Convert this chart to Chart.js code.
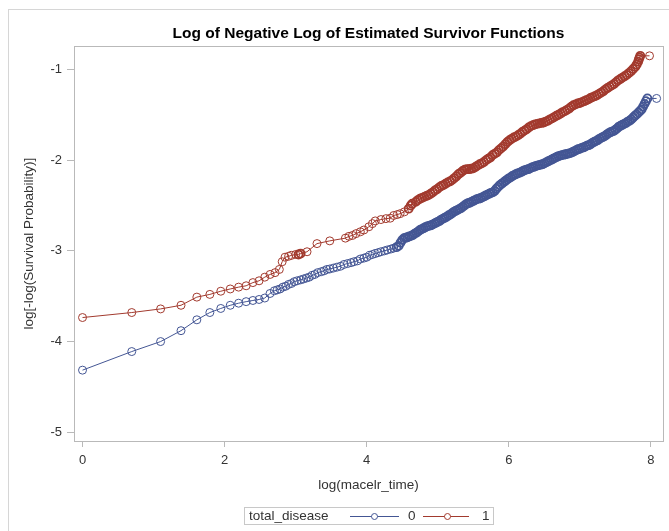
<!DOCTYPE html>
<html>
<head>
<meta charset="utf-8">
<title>Log of Negative Log of Estimated Survivor Functions</title>
<script src="https://cdn.jsdelivr.net/npm/chart.js@4.4.0/dist/chart.umd.min.js"></script>
<style>
  body { margin: 0; background: #fff; }
  #wrap { position: relative; width: 669px; height: 531px; overflow: hidden; font-family: "Liberation Sans", Arial, sans-serif; }
  #frame { position: absolute; left: 8px; top: 9px; width: 700px; height: 600px; border-left: 1px solid #d6d6d6; border-top: 1px solid #d6d6d6; }
  #chart { position: absolute; left: 0; top: 0; }
  #legend { position: absolute; left: 244px; top: 507px; width: 248px; height: 16px; border: 1px solid #c8c8c8; font-size: 13.5px; color: #333; }
  #legend span { position: absolute; top: 0; line-height: 16px; }
  #legend .key { top: 8px; width: 49px; height: 1px; }
  #legend .key::after { content: ""; position: absolute; left: 21px; top: -3px; width: 5px; height: 5px; border-radius: 50%; border: 1px solid currentColor; background: #fff; }
</style>
</head>
<body>
<div id="wrap">
  <div id="frame"></div>
  <canvas id="chart" width="669" height="531"></canvas>
  <div id="legend">
    <span style="left:4px">total_disease</span>
    <span class="key" style="left:105px;background:#445694;color:#445694"></span>
    <span style="left:163px">0</span>
    <span class="key" style="left:178px;background:#A23A2E;color:#A23A2E;width:46px"></span>
    <span style="left:237px">1</span>
  </div>
</div>
<script>
// === Data ===

// total_disease = 0
const timeLog0 = [
  0, 0.693, 1.099, 1.386, 1.609, 1.792, 1.946, 2.079, 2.197, 2.303, 2.398, 2.485, 2.565, 2.639,
  2.70, 2.74, 2.78, 2.82, 2.86, 2.90, 2.94, 2.98, 3.02, 3.07, 3.11, 3.15, 3.19, 3.23, 3.27, 3.31,
  3.36, 3.40, 3.44, 3.48, 3.53, 3.58, 3.63, 3.68, 3.73, 3.78, 3.82, 3.87, 3.91, 3.96, 4.00, 4.04,
  4.08, 4.12, 4.16, 4.20, 4.25, 4.29, 4.34, 4.38, 4.42,
  4.450, 4.475, 4.500, 4.525, 4.550, 4.575, 4.600, 4.625, 4.650, 4.675, 4.700, 4.725, 4.750, 4.775,
  4.800, 4.825, 4.850, 4.875, 4.900, 4.925, 4.950, 4.975, 5.000, 5.025, 5.050, 5.075, 5.100, 5.125,
  5.150, 5.175, 5.200, 5.225, 5.250, 5.275, 5.300, 5.325, 5.350, 5.375, 5.400, 5.425, 5.450, 5.475,
  5.500, 5.525, 5.550, 5.575, 5.600, 5.625, 5.650, 5.675, 5.700, 5.725, 5.750, 5.775, 5.800, 5.825,
  5.850, 5.875, 5.900, 5.925, 5.950, 5.975, 6.000, 6.025, 6.050, 6.075, 6.100, 6.125, 6.150, 6.175,
  6.200, 6.225, 6.250, 6.275, 6.300, 6.325, 6.350, 6.375, 6.400, 6.425, 6.450, 6.475, 6.500, 6.525,
  6.550, 6.575, 6.600, 6.625, 6.650, 6.675, 6.700, 6.725, 6.750, 6.775, 6.800, 6.825, 6.850, 6.875,
  6.900, 6.925, 6.950, 6.975, 7.000, 7.025, 7.050, 7.075, 7.100, 7.125, 7.150, 7.175, 7.200, 7.225,
  7.250, 7.275, 7.300, 7.325, 7.350, 7.375, 7.400, 7.425, 7.450, 7.475, 7.500, 7.525, 7.550, 7.575,
  7.600, 7.625, 7.650, 7.675, 7.700, 7.725, 7.750, 7.775, 7.800, 7.825, 7.850, 7.870, 7.890, 7.910,
  7.930, 7.950, 8.080
];
const survLogLog0 = [
  -4.315, -4.11, -4.00, -3.88, -3.76, -3.68, -3.635, -3.60, -3.577, -3.56, -3.547, -3.536, -3.52, -3.47,
  -3.44, -3.43, -3.42, -3.40, -3.39, -3.37, -3.36, -3.34, -3.33, -3.32, -3.31, -3.30, -3.29, -3.27, -3.26, -3.24,
  -3.23, -3.22, -3.205, -3.20, -3.19, -3.18, -3.17, -3.15, -3.14, -3.13, -3.12, -3.11, -3.09, -3.08, -3.07, -3.05,
  -3.04, -3.03, -3.02, -3.01, -3.00, -2.99, -2.98, -2.97, -2.96,
  -2.945, -2.91, -2.88, -2.86, -2.855, -2.85, -2.84, -2.835, -2.825, -2.81, -2.80, -2.785, -2.77, -2.76,
  -2.75, -2.74, -2.73, -2.725, -2.72, -2.71, -2.70, -2.69, -2.68, -2.67, -2.655, -2.645, -2.635, -2.625,
  -2.61, -2.60, -2.585, -2.57, -2.56, -2.55, -2.54, -2.53, -2.515, -2.50, -2.485, -2.475, -2.47, -2.46,
  -2.45, -2.44, -2.43, -2.425, -2.42, -2.41, -2.40, -2.39, -2.38, -2.37, -2.36, -2.355, -2.34, -2.315,
  -2.295, -2.275, -2.26, -2.245, -2.23, -2.215, -2.20, -2.19, -2.175, -2.165, -2.155, -2.145, -2.14, -2.13,
  -2.12, -2.11, -2.105, -2.10, -2.09, -2.08, -2.075, -2.065, -2.06, -2.055, -2.05, -2.045, -2.035, -2.025,
  -2.015, -2.005, -1.995, -1.985, -1.975, -1.965, -1.955, -1.95, -1.945, -1.94, -1.935, -1.93, -1.925, -1.92,
  -1.91, -1.90, -1.89, -1.88, -1.875, -1.865, -1.86, -1.85, -1.84, -1.835, -1.825, -1.81, -1.80, -1.79,
  -1.78, -1.765, -1.755, -1.745, -1.735, -1.72, -1.705, -1.695, -1.685, -1.68, -1.665, -1.65, -1.63, -1.62,
  -1.61, -1.60, -1.59, -1.575, -1.565, -1.55, -1.53, -1.51, -1.495, -1.475, -1.455, -1.44, -1.41, -1.38,
  -1.35, -1.32, -1.32
];

// total_disease = 1
const timeLog1 = [
  0, 0.693, 1.099, 1.386, 1.609, 1.792, 1.946, 2.079, 2.197, 2.303, 2.398, 2.485, 2.565, 2.64,
  2.71, 2.77, 2.81, 2.85, 2.90, 2.94, 3.00, 3.04, 3.07, 3.16, 3.30, 3.48, 3.70, 3.75, 3.80, 3.85,
  3.91, 3.96, 4.03, 4.08, 4.12, 4.20, 4.27, 4.33, 4.38, 4.43, 4.47, 4.53, 4.59, 4.62, 4.64, 4.69,
  4.72, 4.75, 4.78, 4.81, 4.84, 4.87, 4.90, 4.93, 4.96, 4.99, 5.02, 5.05, 5.08, 5.11, 5.14, 5.17,
  5.20, 5.23, 5.26, 5.29, 5.32, 5.35, 5.38, 5.41, 5.44, 5.47, 5.50, 5.53, 5.56, 5.59, 5.62, 5.65,
  5.68, 5.71, 5.74, 5.77, 5.80, 5.83, 5.86, 5.89, 5.92, 5.95, 5.98, 6.01, 6.04, 6.07, 6.10, 6.13,
  6.16, 6.19, 6.22, 6.25, 6.28, 6.31, 6.34, 6.37, 6.40, 6.43, 6.46, 6.49, 6.52, 6.55, 6.58, 6.61,
  6.64, 6.67, 6.70, 6.73, 6.76, 6.79, 6.82, 6.85, 6.88, 6.91, 6.94, 6.97, 7.00, 7.03, 7.06, 7.09,
  7.12, 7.15, 7.18, 7.21, 7.24, 7.27, 7.30, 7.33, 7.36, 7.39, 7.42, 7.45, 7.48, 7.51, 7.54, 7.57,
  7.60, 7.63, 7.66, 7.69, 7.72, 7.75, 7.78, 7.80, 7.82, 7.83, 7.84, 7.85, 7.98
];
const survLogLog1 = [
  -3.735, -3.68, -3.64, -3.60, -3.51, -3.48, -3.445, -3.42, -3.40, -3.385, -3.35, -3.33, -3.29, -3.26,
  -3.24, -3.205, -3.12, -3.07, -3.06, -3.05, -3.04, -3.04, -3.03, -3.01, -2.92, -2.89, -2.86, -2.84, -2.83, -2.81,
  -2.79, -2.77, -2.735, -2.70, -2.67, -2.655, -2.645, -2.64, -2.61, -2.60, -2.59, -2.57, -2.535, -2.50, -2.48, -2.46,
  -2.44, -2.425, -2.415, -2.405, -2.395, -2.385, -2.37, -2.355, -2.335, -2.32, -2.30, -2.285, -2.275, -2.26, -2.245, -2.235,
  -2.22, -2.20, -2.18, -2.155, -2.14, -2.12, -2.105, -2.10, -2.10, -2.095, -2.09, -2.075, -2.06, -2.045, -2.035, -2.02,
  -2.00, -1.985, -1.97, -1.945, -1.93, -1.915, -1.89, -1.87, -1.85, -1.825, -1.80, -1.78, -1.765, -1.75, -1.74, -1.725,
  -1.71, -1.69, -1.675, -1.66, -1.64, -1.625, -1.615, -1.605, -1.60, -1.595, -1.59, -1.585, -1.575, -1.565, -1.55, -1.54,
  -1.525, -1.51, -1.50, -1.485, -1.47, -1.46, -1.445, -1.43, -1.41, -1.395, -1.385, -1.375, -1.37, -1.36, -1.35, -1.34,
  -1.33, -1.315, -1.305, -1.295, -1.285, -1.27, -1.255, -1.24, -1.22, -1.205, -1.19, -1.175, -1.16, -1.14, -1.12, -1.105,
  -1.09, -1.075, -1.06, -1.04, -1.02, -0.995, -0.97, -0.945, -0.915, -0.89, -0.87, -0.85, -0.85
];

// axis ranges / ticks
const xRange = [-0.12, 8.17];
const yRange = [-5.096, -0.743];
const xStep = 2;
const yStep = 1;

const blue = "#445694";
const red = "#A23A2E";
const axisGray = "#b9b9b9";
const textColor = "#333333";

function toPoints(xs, ys) {
  return xs.map((x, i) => ({ x: x, y: ys[i] }));
}

// full rectangle round the plot area
const plotFrame = {
  id: "plotFrame",
  beforeDatasetsDraw(chart) {
    const a = chart.chartArea;
    const ctx = chart.ctx;
    ctx.save();
    ctx.strokeStyle = axisGray;
    ctx.lineWidth = 1;
    ctx.strokeRect(Math.round(a.left) + 0.5, Math.round(a.top) + 0.5,
      Math.round(a.right - a.left), Math.round(a.bottom - a.top));
    ctx.restore();
  }
};

// markers that sit close together smear into a solid band in the original
function markerWidth(xs) {
  return (c) => {
    const i = c.dataIndex;
    const prev = i > 0 ? xs[i] - xs[i - 1] : 1;
    const next = i < xs.length - 1 ? xs[i + 1] - xs[i] : 1;
    return Math.min(prev, next) < 0.035 ? 1.8 : 1;
  };
}

function seriesStyle(color, xs) {
  return {
    borderColor: color,
    borderWidth: 1,
    pointRadius: 4,
    pointBorderWidth: markerWidth(xs),
    pointBorderColor: color,
    pointBackgroundColor: "rgba(255,255,255,0)",
    pointStyle: "circle",
    tension: 0,
    fill: false
  };
}

new Chart(document.getElementById("chart"), {
  type: "line",
  data: {
    datasets: [
      Object.assign({ label: "0", data: toPoints(timeLog0, survLogLog0) }, seriesStyle(blue, timeLog0)),
      Object.assign({ label: "1", data: toPoints(timeLog1, survLogLog1) }, seriesStyle(red, timeLog1))
    ]
  },
  options: {
    responsive: false,
    animation: false,
    events: [],
    layout: { padding: { left: 0, right: 6, top: 0, bottom: 0 } },
    plugins: {
      legend: { display: false },
      tooltip: { enabled: false },
      title: {
        display: true,
        fullSize: false,
        text: "Log of Negative Log of Estimated Survivor Functions",
        color: "#000",
        font: { family: "Liberation Sans", size: 15.5, weight: "bold" },
        padding: { top: 24, bottom: 3.5 }
      }
    },
    scales: {
      x: {
        type: "linear",
        min: xRange[0],
        max: xRange[1],
        afterFit(scale) { scale.height = 90; },
        border: { display: false },
        grid: { drawOnChartArea: false, drawTicks: true, tickLength: 6, color: axisGray },
        ticks: {
          stepSize: xStep,
          includeBounds: false,
          maxRotation: 0,
          padding: 6,
          color: textColor,
          font: { family: "Liberation Sans", size: 13 }
        },
        title: {
          display: true,
          text: "log(macelr_time)",
          color: textColor,
          font: { family: "Liberation Sans", size: 13.5 },
          padding: { top: 0, bottom: 38 }
        }
      },
      y: {
        type: "linear",
        min: yRange[0],
        max: yRange[1],
        afterFit(scale) { scale.width = 74; },
        border: { display: false },
        grid: { drawOnChartArea: false, drawTicks: true, tickLength: 7, color: axisGray },
        ticks: {
          stepSize: yStep,
          includeBounds: false,
          padding: 5,
          color: textColor,
          font: { family: "Liberation Sans", size: 13 }
        },
        title: {
          display: true,
          text: "log[-log(Survival Probability)]",
          color: textColor,
          font: { family: "Liberation Sans", size: 13.5 },
          padding: { top: 21, bottom: 0 }
        }
      }
    }
  },
  plugins: [plotFrame]
});
</script>
</body>
</html>
